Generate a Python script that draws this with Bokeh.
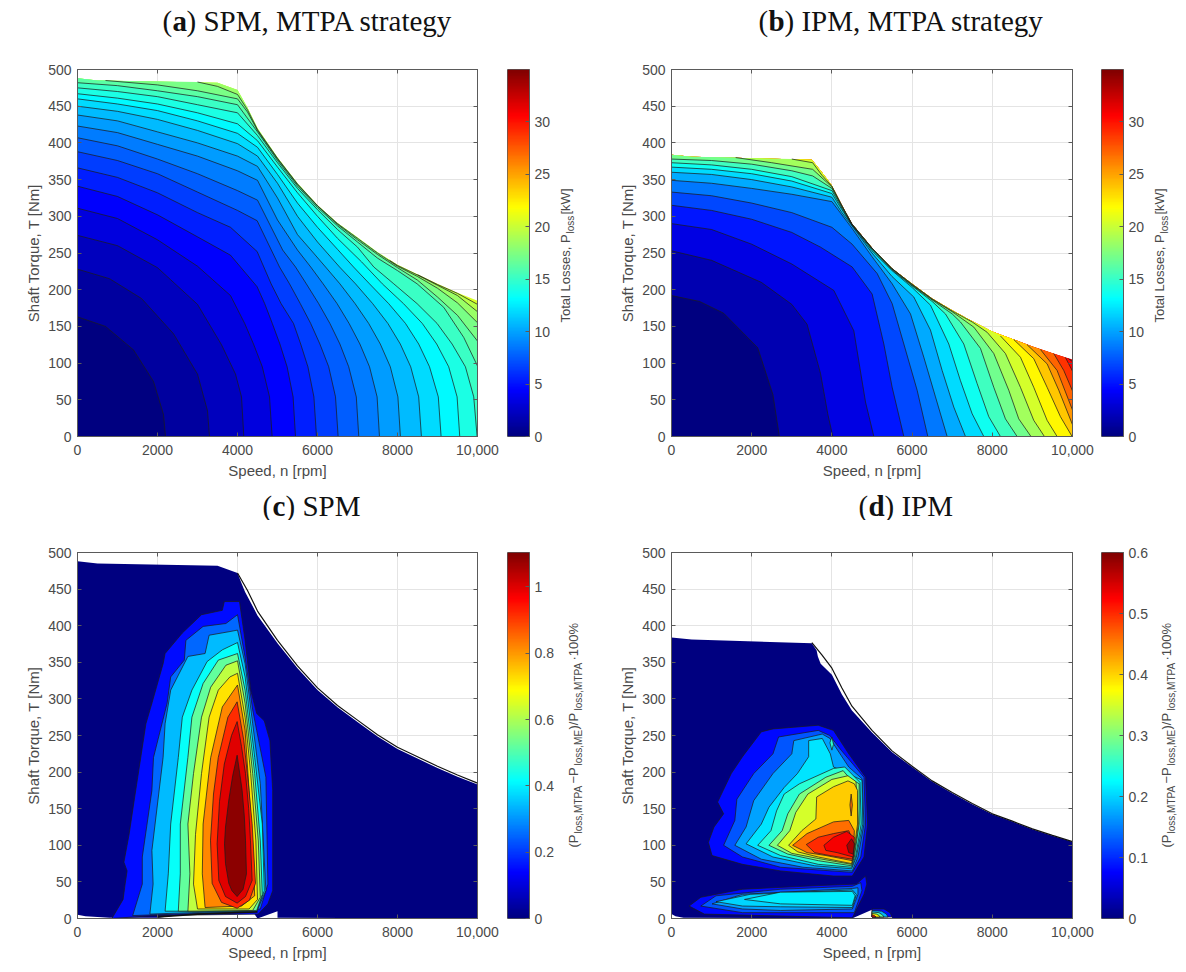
from math import pi
import numpy as np
from bokeh.plotting import figure
from bokeh.layouts import column, row
from bokeh.models import (Range1d, LinearAxis, FixedTicker, LinearColorMapper)
from bokeh.core.properties import value
from bokeh.embed import file_html
from bokeh.resources import INLINE

X_TICKS = [0, 2000, 4000, 6000, 8000, 10000]
Y_TICKS = [0, 50, 100, 150, 200, 250, 300, 350, 400, 450, 500]

# ---------------- torque limit envelopes (speed, torque)
ENV_SPM = [(0,488),(500,485),(3500,482),(4000,472),(4250,448),(4500,420),(5000,380),(5500,345),(6000,315),
           (6500,291),(7000,271),(7500,251),(8000,234),(8500,221),(9000,208),(9500,196),(10000,185)]
ENV_IPM = [(0,384),(500,381),(3500,377),(3750,360),(4000,342),(4250,315),(4500,290),(5000,257),(5500,229),
           (6000,208),(6500,188),(7000,172),(7500,157),(8000,143),(8500,133),(9000,122.5),(9500,113.5),(10000,105)]

# ---------------- panel (a): loss contours, ascending
A_STEP = 1.08
A_CONTOURS = [
 [(0,163),(700,150),(1400,118),(1900,75),(2150,30),(2200,0)],
 [(0,228),(800,215),(1600,188),(2400,140),(3000,85),(3250,35),(3300,0)],
 [(0,274),(1000,260),(2000,230),(3000,180),(3600,125),(3950,85),(4100,54),(4158,0)],
 [(0,311),(1000,297),(2000,268),(3000,232),(3825,192),(4180,154),(4400,126),(4620,95),(4800,54),(4866,0)],
 [(0,341),(1000,327),(2000,302),(3000,272),(3825,247),(4491,204),(4680,181),(4870,154),(5060,126),(5240,95),(5390,54),(5450,0)],
 [(0,366),(1000,353),(2000,332),(3000,305),(3825,285),(4491,252),(4840,208),(5090,181),(5400,154),(5580,126),(5760,95),(5910,54),(5975,0)],
 [(0,388),(1000,376),(2000,358),(3000,333),(4000,308),(4491,294),(5050,231),(5300,208),(5570,181),(5830,154),(6060,126),(6280,95),(6450,54),(6516,0)],
 [(0,407),(1000,396),(2000,378),(3000,358),(4000,335),(4500,322),(5130,254),(5450,231),(5720,208),(6030,181),(6310,154),(6560,126),(6780,95),(6970,54),(7032,0)],
 [(0,423),(1000,414),(2000,398),(3000,382),(4000,362),(4500,349),(5000,295),(5500,254),(5830,231),(6140,208),(6490,181),(6790,154),(7060,126),(7300,95),(7490,54),(7549,0)],
 [(0,438),(1000,430),(2000,415),(3000,400),(4000,382),(4500,368),(5000,325),(5500,275),(5900,250),(6200,231),(6560,208),(6940,181),(7280,154),(7570,126),(7820,95),(8010,54),(8073,0)],
 [(0,450),(1000,443),(2000,432),(3000,417),(4000,399),(4500,382),(5000,345),(5500,300),(6000,265),(6550,231),(6950,208),(7380,181),(7760,154),(8070,126),(8330,95),(8530,54),(8598,0)],
 [(0,460),(1000,453),(2000,444),(3000,430),(4000,413),(4500,394),(5000,357),(5500,318),(6000,285),(6500,255),(6900,231),(7300,208),(7780,181),(8200,154),(8530,126),(8800,95),(9020,54),(9090,0)],
 [(0,467),(1000,461),(2000,453),(3000,441),(4000,426),(4500,403),(5000,367),(5500,332),(6000,300),(6500,270),(7100,238),(7620,208),(8150,181),(8620,154),(8980,126),(9280,95),(9490,54),(9556,0)],
 [(0,475),(1000,470),(2000,463),(3000,452),(4000,441),(4500,410),(5000,373),(5500,338),(6000,309),(6500,282),(7000,258),(7407,231),(7907,208),(8490,181),(8990,154),(9365,126),(9698,95),(9906,54),(9990,0)],
 [(0,482),(1000,478),(2000,471),(3000,463),(4000,452),(4500,415),(5000,376),(5500,341),(6000,312),(6500,287),(7000,265),(7500,243),(8000,226),(8490,208),(9156,176),(9656,135),(10000,96)],
 [(700,485),(2000,479),(3000,471),(4000,460),(4250,442),(4500,417),(5000,378),(5500,343),(6000,314),(6500,289),(7000,268),(7500,248),(8000,230),(8500,213),(9000,190),(9500,165),(10000,130)],
 [(3000,483),(3500,477),(4000,466),(4250,445),(4500,418),(5000,379),(5500,344),(6000,314.5),(6500,290),(7000,270),(7500,250),(8000,232),(8500,218),(9000,202),(9500,182),(10000,155)],
 [(7800,240),(8000,233),(8500,220),(9000,206),(9500,192),(10000,170)],
 [(8500,220.5),(9000,207),(9500,195),(10000,180)],
]

# ---------------- panel (b)
B_STEP = 1.7
B_CONTOURS = [
 [(0,192),(700,184),(1300,168),(2150,121),(2530,57),(2690,0)],
 [(0,253),(1000,240),(2240,210),(3000,180),(3380,153),(3716,86),(3900,30),(4023,0)],
 [(0,290),(1000,282),(2000,262),(3000,235),(4048,199),(4547,144),(4838,47),(5046,0)],
 [(0,315),(1000,308),(2000,296),(3000,278),(3716,258),(4505,231),(5004,194),(5295,126),(5503,67),(5794,0)],
 [(0,333),(1000,328),(2000,318),(3000,305),(4000,285),(4505,262),(5129,222),(5503,181),(5794,126),(6126,63),(6392,0)],
 [(0,349),(1000,345),(2000,338),(3000,330),(4000,320),(4510,283),(5000,245),(5503,208),(5960,167),(6292,108),(6583,54),(6874,0)],
 [(0,360),(1000,357),(2000,350),(3000,340),(4000,326),(4250,305),(4500,287),(5000,250),(5500,218),(6043,190),(6458,145),(6749,90),(7040,40),(7331,0)],
 [(0,367),(1000,364),(2000,358),(3000,348),(4000,331),(4250,309),(4500,288),(5000,253),(5500,226),(6000,203),(6458,179),(6915,126),(7206,76),(7497,31),(7788,0)],
 [(0,373),(1000,370),(2000,364),(3000,354),(4000,335),(4250,311),(4500,288.5),(5000,255),(5500,227),(6000,205),(6500,184),(6832,167),(7289,126),(7622,72),(7912,27),(8203,0)],
 [(0,378),(1000,376),(2000,371),(3000,362),(3520,355),(4000,338),(4250,313),(4500,289),(5000,256),(5500,228),(6000,206),(6500,186),(7000,167),(7206,156),(7705,120),(8037,67),(8328,24),(8619,0)],
 [(1600,380),(2500,373),(3520,364),(4000,340),(4250,314),(4500,289.5),(5000,256.5),(5500,228.5),(6000,207),(6500,187),(7000,170),(7539,149),(8037,113),(8411,63),(8660,24),(8965,0)],
 [(3000,378),(3520,373),(3750,356),(4000,341),(4250,314.5),(4500,289.7),(5000,256.8),(5500,228.8),(6000,207.5),(6500,187.5),(7000,171),(7500,156),(7871,142),(8328,113),(8702,67),(9034,22),(9300,0)],
 [(8203,137),(8702,108),(9034,67),(9367,22),(9616,0)],
 [(8536,132),(9034,106),(9367,67),(9699,27),(9990,0)],
 [(8868,125),(9367,99),(9658,63),(10000,16)],
 [(9201,118.5),(9616,90),(10000,36)],
 [(9533,113),(9782,90),(10000,62)],
 [(9824,107.5),(10000,89)],
 [(9900,106),(10000,102)],
]

# ---------------- panel (c): blue region outline, nested contours and their band values
C_REGION = [(0,488),(500,485),(3500,482),(4000,472),(4100,458),(4190,446),(4500,414),(5000,376),(5500,342),(6000,312),
            (6500,288.5),(7000,268.5),(7500,248.5),(8000,231.5),(8500,218.5),(9000,205.5),(9500,193.5),(10000,183),
            (10000,0),(5000,1),(5000,10),(4500,0),(4400,8),(4000,7),(3000,6),(2500,4),(2000,1),(800,1),(200,3),(0,5)]
C_BOTTOM_LINE = [(2000,2),(3000,6),(4000,8),(4500,9)]
C_VALUES = [0.15,0.25,0.34,0.42,0.52,0.62,0.72,0.82,0.92,1.0,1.09]
C_CONTOURS = [
 [(860,0),(1140,26),(1190,47),(1240,65),(1160,77),(1290,115),(1430,166),(1710,266),(1860,294),(2140,348),(2190,362),(2620,390),(3100,415),(3620,421),(3670,433),(4050,433),(4190,380),(4330,312),(4480,280),(4670,270),(4810,243),(4880,175),(4880,38),(4760,20),(4520,6),(1900,4)],
 [(1380,4),(1620,47),(1620,84),(1860,175),(1900,220),(2240,294),(2330,330),(2670,353),(2710,380),(3140,399),(3710,403),(4000,415),(4190,357),(4380,285),(4480,257),(4710,193),(4760,47),(4570,13),(3810,8),(1900,5)],
 [(1810,6),(1890,47),(1860,93),(2140,220),(2190,266),(2330,312),(2760,358),(3190,362),(3290,387),(3810,392),(4000,394),(4190,348),(4380,266),(4570,184),(4710,38),(4480,10),(2860,8)],
 [(2190,10),(2270,61),(2330,129),(2520,220),(2620,275),(2860,312),(3240,351),(3620,367),(4000,377),(4190,330),(4430,220),(4620,129),(4670,38),(4480,10)],
 [(2520,10),(2570,61),(2570,129),(2760,220),(2860,275),(3140,321),(3520,353),(4000,362),(4190,312),(4430,198),(4570,106),(4620,33),(4480,11)],
 [(2760,10),(2810,61),(2760,129),(2900,198),(3100,275),(3330,316),(3710,346),(4000,352),(4190,294),(4380,198),(4520,106),(4570,29),(4380,11)],
 [(3000,13),(2900,47),(2950,115),(3100,198),(3290,275),(3520,312),(3810,330),(4000,335),(4190,275),(4330,198),(4460,106),(4500,26),(4290,13)],
 [(3190,15),(3120,61),(3140,129),(3330,220),(3620,289),(4000,319),(4190,257),(4290,175),(4380,93),(4430,31),(4100,17)],
 [(3991,14),(3600,22),(3366,48),(3325,107),(3400,170),(3520,220),(3760,275),(3991,296),(4158,243),(4270,185),(4366,130),(4450,48),(4300,25)],
 [(3991,21),(3700,30),(3533,52),(3491,102),(3550,160),(3670,211),(3850,250),(3991,269),(4100,235),(4200,198),(4280,150),(4324,107),(4366,52),(4200,30)],
 [(3991,30),(3860,38),(3783,48),(3700,75),(3675,102),(3700,125),(3783,162),(3880,195),(3991,223),(4116,175),(4170,140),(4200,107),(4224,61),(4140,40)],
]

# ---------------- panel (d)
D_REGION = [(0,384),(500,381),(3500,376),(3620,366),(3650,358),(3720,348),(4000,333),(4250,306),(4500,284),(5000,254),(5500,227),
            (6000,207),(6500,187),(7000,171),(7500,156),(8000,142.5),(8500,132.5),(9000,122),(9500,113),(10000,105),
            (10000,0),(5500,0),(5500,2),(5000,2),(5000,12),(4500,0),(300,1),(100,3),(0,6)]
D_VALUES = [0.08,0.125,0.17,0.21,0.25,0.30,0.35,0.405,0.46,0.50,0.53,0.575]
D_CONTOURS = [
 [(920,104),(1060,125),(1300,143),(1150,159),(1490,198),(1770,221),(2240,255),(2530,259),(3660,264),(4040,257),(4420,225),(4840,193),(4890,129),(4800,84),(4510,58),(4040,58),(2720,65),(1770,74),(1010,86)],
 [(1300,100),(1580,134),(1630,163),(2050,198),(2530,225),(2670,248),(3660,257),(3950,250),(4230,230),(4800,193),(4840,129),(4720,84),(4510,63),(2720,70),(1770,84)],
 [(1580,100),(1860,125),(2050,161),(2530,198),(3000,225),(3050,243),(3760,252),(3950,246),(4420,207),(4750,191),(4800,129),(4650,84),(4510,65),(3280,70),(2240,81)],
 [(1860,102),(2240,129),(2430,152),(2810,179),(3140,198),(3420,221),(3420,243),(3760,246),(3960,225),(4040,207),(4510,195),(4750,189),(4770,129),(4610,84),(4490,68),(3570,72),(2530,84)],
 [(2150,100),(2480,120),(2620,147),(2810,170),(3190,184),(4040,205),(4320,207),(4700,186),(4730,129),(4590,84),(4490,70),(3660,74),(2720,86)],
 [(2430,100),(2760,120),(2900,143),(3190,170),(3850,193),(4280,202),(4420,193),(4680,184),(4680,129),(4560,84),(4490,72),(3660,79),(2900,88)],
 [(2640,100),(2950,120),(3100,145),(3400,170),(4000,190),(4400,195),(4600,187),(4660,129),(4545,84),(4490,74),(3660,82),(3000,89)],
 [(2920,100),(3250,120),(3600,136),(3620,166),(4040,180),(4400,188),(4560,184),(4640,175),(4640,129),(4530,84),(4490,75),(3660,84),(3150,91)],
 [(3020,100),(3380,116),(4040,132),(4420,134),(4560,120),(4530,84),(4510,79),(3850,86),(3380,90)],
 [(3360,101),(3660,111),(4040,116),(4420,120),(4560,102),(4510,81),(3950,86),(3570,90)],
 [(3800,100),(4040,111),(4370,119),(4560,111),(4530,84),(4130,90),(3850,93)],
 [(4370,100),(4490,109),(4560,102),(4530,88),(4420,90)],
]
D_SPOT_VALUES = [0.25,0.46]
D_SPOTS = [
 [(3950,240),(4000,248),(4040,238),(4000,230)],
 [(4450,155),(4480,170),(4510,155),(4480,140)],
]
D_STRIP_VALUES = [0.08,0.125,0.17,0.2,0.215]
D_STRIP = [
 [(440,17),(730,29),(1770,40),(3660,45),(4610,47),(4840,58),(4870,47),(4800,33),(4510,1),(820,6)],
 [(730,17),(1110,31),(2720,40),(4510,44),(4720,49),(4750,38),(4560,8),(1770,8)],
 [(1010,20),(1770,33),(4510,41),(4650,42),(4650,33),(4510,13),(2720,11),(1770,13)],
 [(1110,23),(1960,33),(4510,39),(4610,33),(4510,15),(2720,16),(1770,17)],
 [(1820,26),(2720,36),(4510,37),(4580,31),(4510,18),(2720,20)],
]
D_BLOB_VALUES = [0.08,0.18,0.28,0.38,0.52]
D_BLOB = [
 [(5000,13),(5300,13),(5450,8),(5500,2),(5000,2)],
 [(5000,11),(5240,10),(5360,6),(5400,2),(5000,2)],
 [(5000,9),(5170,8),(5260,5),(5300,2),(5000,2)],
 [(5000,7),(5110,6),(5180,4),(5200,2),(5000,2)],
 [(5000,5),(5060,4),(5100,2),(5000,2)],
]

LOSS_TICKS = [0, 5, 10, 15, 20, 25, 30]
C_TICKS = [0, 0.2, 0.4, 0.6, 0.8, 1]
D_TICKS = [0, 0.1, 0.2, 0.3, 0.4, 0.5, 0.6]
LOSS_LABEL = [(322, "Total Losses, P", False), (233, "loss", True), (214, " [kW]", False)]
RATIO_LABEL = [(847, "(P", False), (833, "loss,MTPA", True), (783, "\u2212P", False), (765, "loss,ME", True),
               (729, ")/P", False), (710, "loss,MTPA", True), (660, "\u00b7100%", False)]

LINE_COLOR = "#1c1c1c"
TEXT_COLOR = "#4a4a4a"
AXIS_COLOR = "#5a5a5a"


def jet(t):
    t = max(0.0, min(1.0, t))
    def c(v):
        return int(round(255 * max(0.0, min(1.0, v))))
    return "#%02x%02x%02x" % (c(min(4*t-1.5, -4*t+4.5)), c(min(4*t-0.5, -4*t+3.5)), c(min(4*t+0.5, -4*t+2.5)))


JET = [jet(i / 255) for i in range(256)]


def xs(pts):
    return [q[0] for q in pts]


def ys(pts):
    return [q[1] for q in pts]


def make(left, right, top, bottom, fw, fh):
    p = figure(frame_width=fw, frame_height=fh, x_range=Range1d(0, 10000), y_range=Range1d(0, 500),
               min_border_left=left, min_border_right=right, min_border_top=top, min_border_bottom=bottom,
               output_backend="svg", toolbar_location=None, background_fill_color="white",
               x_axis_label="Speed, n [rpm]", y_axis_label="Shaft Torque, T [Nm]")
    p.xaxis.ticker = FixedTicker(ticks=X_TICKS)
    p.yaxis.ticker = FixedTicker(ticks=Y_TICKS)
    p.xaxis.major_label_overrides = {10000: "10,000"}
    for ax in (p.xaxis[0], p.yaxis[0]):
        ax.major_label_text_font = "Liberation Sans"
        ax.major_label_text_font_size = "14px"
        ax.major_label_text_color = TEXT_COLOR
        ax.axis_label_text_font = "Liberation Sans"
        ax.axis_label_text_font_size = "15px"
        ax.axis_label_text_font_style = "normal"
        ax.axis_label_text_color = TEXT_COLOR
        ax.axis_line_color = AXIS_COLOR
        ax.major_tick_line_color = AXIS_COLOR
        ax.major_tick_in = 4
        ax.major_tick_out = 0
        ax.minor_tick_line_color = None
    p.xaxis[0].major_label_standoff = 8
    p.xaxis[0].axis_label_standoff = 4
    p.yaxis[0].major_label_standoff = 6
    p.yaxis[0].axis_label_standoff = 3
    p.outline_line_color = AXIS_COLOR
    p.grid.grid_line_color = "#e4e4e4"
    p.xgrid.ticker = FixedTicker(ticks=X_TICKS)
    p.ygrid.ticker = FixedTicker(ticks=Y_TICKS)
    # tick marks on the opposite sides, as in a boxed plot
    for side, tk in (("above", X_TICKS), ("right", Y_TICKS)):
        p.add_layout(LinearAxis(ticker=FixedTicker(ticks=tk), major_label_text_font_size="0px", major_label_standoff=0,
                                major_label_text_color=None, axis_line_color=AXIS_COLOR,
                                major_tick_line_color=AXIS_COLOR, major_tick_in=4, major_tick_out=0,
                                minor_tick_line_color=None), side)
    return p


def colour_bar(fh, top, bottom, cmax, cticks):
    p = figure(frame_width=22, frame_height=fh, x_range=Range1d(0, 1), y_range=Range1d(0, cmax),
               min_border_left=0, min_border_right=29, min_border_top=top, min_border_bottom=bottom,
               output_backend="svg", toolbar_location=None, x_axis_location=None, y_axis_location="right")
    p.grid.visible = False
    p.outline_line_color = AXIS_COLOR
    ramp = np.linspace(0, cmax, 256).reshape(256, 1)
    p.image(image=[ramp], x=0, y=0, dw=1, dh=cmax,
            color_mapper=LinearColorMapper(palette=JET, low=0, high=cmax))
    ax = p.yaxis[0]
    ax.ticker = FixedTicker(ticks=cticks)
    ax.major_label_overrides = {v: ("%g" % v) for v in cticks}
    ax.major_label_text_font = "Liberation Sans"
    ax.major_label_text_font_size = "14px"
    ax.major_label_text_color = TEXT_COLOR
    ax.major_label_standoff = 5
    ax.axis_line_color = AXIS_COLOR
    ax.major_tick_line_color = AXIS_COLOR
    ax.major_tick_in = 4
    ax.major_tick_out = 0
    ax.minor_tick_line_color = None
    return p


def strip(w, h, x0, y0, top=0, bottom=0):
    """Frame whose data coordinates are page pixels; it holds only texts."""
    p = figure(frame_width=w, frame_height=h, x_range=Range1d(x0, x0 + w), y_range=Range1d(y0 + h, y0),
               min_border_left=0, min_border_right=0, min_border_top=top, min_border_bottom=bottom,
               output_backend="svg", toolbar_location=None, x_axis_location=None, y_axis_location=None)
    p.grid.visible = False
    p.outline_line_color = None
    return p


def title(p, x0, xa, xb, py, letter, rest):
    font = value("Liberation Serif")
    p.text([x0], [py], text=["("], text_font=font, text_font_size="29px", text_color="#111111", text_baseline="middle")
    p.text([xa], [py], text=[letter], text_font=font, text_font_size="29px", text_font_style="bold",
           text_color="#111111", text_baseline="middle")
    p.text([xb], [py], text=[rest], text_font=font, text_font_size="29px", text_color="#111111", text_baseline="middle")


def vlabel(p, x, pieces):
    font = value("Liberation Sans")
    for py, text, sub in pieces:
        p.text([x + 5 if sub else x], [py], text=[text], angle=pi/2, text_font=font,
               text_font_size="10px" if sub else "13px", text_color=TEXT_COLOR,
               text_baseline="middle", text_align="left")


def draw_loss(p, env, contours, step, cmax):
    p.patch(xs(env) + [10000, 0], ys(env) + [0, 0], fill_color=jet(len(contours) * step / cmax), line_color=None)
    for k in range(len(contours) - 1, -1, -1):
        c = contours[k]
        left = [q for q in env if q[0] < c[0][0]] if c[0][0] > 0 else []
        px = xs(left) + xs(c) + ([10000] if c[-1][1] > 0 else []) + [0]
        py = ys(left) + ys(c) + ([0] if c[-1][1] > 0 else []) + [0]
        p.patch(px, py, fill_color=jet(k * step / cmax), line_color=None)
    for c in contours:
        p.line(xs(c), ys(c), line_color=LINE_COLOR, line_width=1.0, line_alpha=0.72)


def draw_nested(p, contours, values, cmax):
    for c, v in zip(contours, values):
        p.patch(xs(c), ys(c), fill_color=jet(v / cmax), line_color=LINE_COLOR, line_width=1.0, line_alpha=0.72)


# titles
t1 = strip(1180, 40, 0, 0)
title(t1, 162, 172, 186, 20, "a", ") SPM, MTPA strategy")
title(t1, 758, 768, 784, 20, "b", ") IPM, MTPA strategy")
t2 = strip(1180, 36, 0, 484)
title(t2, 262, 272, 285, 505, "c", ") SPM")
title(t2, 858, 868, 884, 505, "d", ") IPM")

# panels
pa = make(77, 30, 29, 48, 400, 367)
draw_loss(pa, ENV_SPM, A_CONTOURS, A_STEP, 35)
ba = colour_bar(367, 29, 48, 35, LOSS_TICKS)
va = strip(38, 367, 558, 69, 29, 48)
vlabel(va, 565, LOSS_LABEL)

pb = make(75, 29, 29, 48, 401, 367)
draw_loss(pb, ENV_IPM, B_CONTOURS, B_STEP, 35)
bb = colour_bar(367, 29, 48, 35, LOSS_TICKS)
vb = strip(30, 367, 1152, 69, 29, 48)
vlabel(vb, 1159, LOSS_LABEL)

pc = make(77, 30, 32, 46, 400, 366)
pc.patch(xs(C_REGION), ys(C_REGION), fill_color=jet(0), line_color=None)
pc.line(xs(ENV_SPM)[3:], ys(ENV_SPM)[3:], line_color="#111111", line_width=1.2)
draw_nested(pc, C_CONTOURS, C_VALUES, 1.104)
pc.line(xs(C_BOTTOM_LINE), ys(C_BOTTOM_LINE), line_color="#111111", line_width=1.6)
bc = colour_bar(366, 32, 46, 1.104, C_TICKS)
vc = strip(38, 366, 558, 552, 32, 46)
vlabel(vc, 573, RATIO_LABEL)

pd_ = make(75, 29, 32, 46, 401, 366)
pd_.patch(xs(D_REGION), ys(D_REGION), fill_color=jet(0), line_color=None)
pd_.line(xs(ENV_IPM)[2:], ys(ENV_IPM)[2:], line_color="#111111", line_width=1.2)
draw_nested(pd_, D_CONTOURS, D_VALUES, 0.6)
draw_nested(pd_, D_SPOTS, D_SPOT_VALUES, 0.6)
draw_nested(pd_, D_STRIP, D_STRIP_VALUES, 0.6)
draw_nested(pd_, D_BLOB, D_BLOB_VALUES, 0.6)
bd = colour_bar(366, 32, 46, 0.6, D_TICKS)
vd = strip(30, 366, 1152, 552, 32, 46)
vlabel(vd, 1166, RATIO_LABEL)

layout = column(t1, row(pa, ba, va, pb, bb, vb), t2, row(pc, bc, vc, pd_, bd, vd))
open("out.html", "w").write(file_html(layout, INLINE))
